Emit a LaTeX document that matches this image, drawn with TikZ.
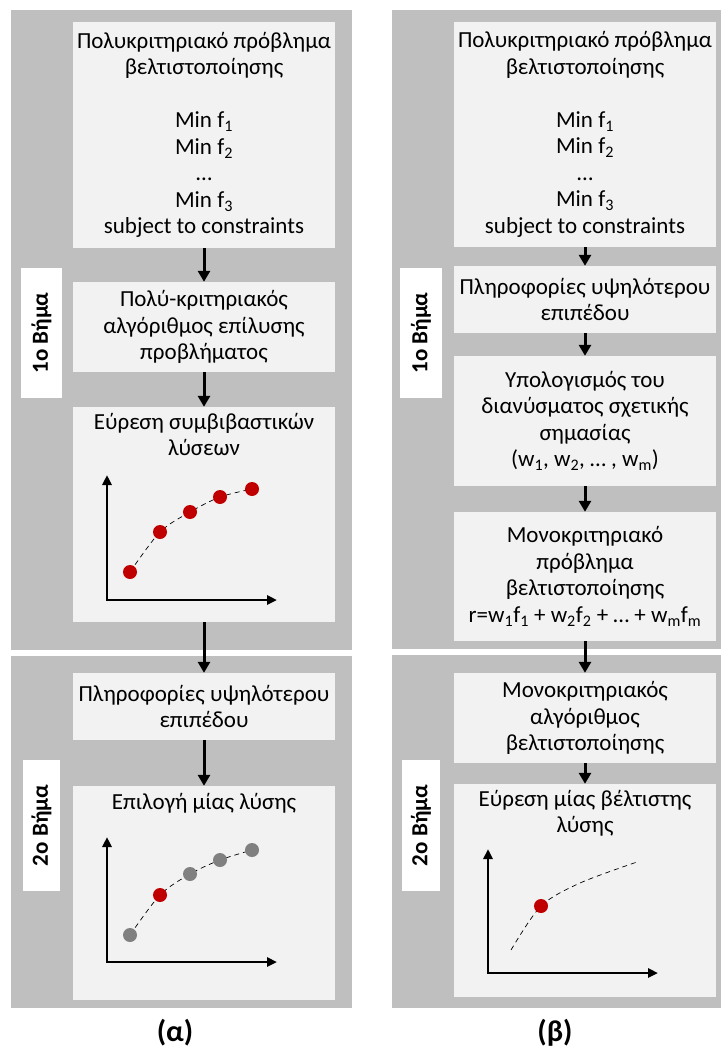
\documentclass[tikz,border=0pt]{standalone}
\usepackage{fontspec}
\setmainfont{Carlito}
\usetikzlibrary{arrows.meta}
\definecolor{panelgray}{HTML}{BFBFBF}
\definecolor{boxgray}{HTML}{F2F2F2}
\definecolor{dotred}{HTML}{C00000}
\definecolor{dotgray}{HTML}{808080}
\begin{document}
\begin{tikzpicture}[x=1pt,y=-1pt,
  box/.style={rectangle, fill=boxgray, inner sep=0pt, minimum width=262pt, align=center,
    font=\fontsize{23}{26.5}\selectfont},
  boxtext/.style={inner sep=0pt, align=center, font=\fontsize{23}{26.5}\selectfont},
  steplabel/.style={rectangle, fill=white, inner sep=0pt, rotate=90,
    font=\fontsize{23}{26}\selectfont\bfseries},
  flow/.style={line width=3pt, -{Triangle[width=12pt,length=11pt]}},
  axis/.style={line width=2.5pt, {Triangle[width=9pt,length=10pt]}-{Triangle[width=9pt,length=10pt]}},
  curve/.style={dash pattern=on 5pt off 4pt, line width=0.7pt},
  reddot/.style={circle, fill=dotred, inner sep=0pt, minimum size=14pt},
  graydot/.style={circle, fill=dotgray, inner sep=0pt, minimum size=14pt},
  caption/.style={font=\fontsize{30}{34}\selectfont\bfseries}]
\useasboundingbox (0,0) rectangle (721,1048);

% ---------- column (a): background panels ----------
\fill[panelgray] (11,10) rectangle (352,650);
\fill[panelgray] (11,656) rectangle (352,1008);
% ---------- column (b): background panels ----------
\fill[panelgray] (392,10) rectangle (721,649);
\fill[panelgray] (392,655) rectangle (721,1008);

% ---------- step labels ----------
\node[steplabel, minimum width=130pt, minimum height=41pt] (sA1) at (41.5,333) {1ο Βήμα};
\node[steplabel, minimum width=131pt, minimum height=37pt] (sA2) at (41.5,825.5) {2ο Βήμα};
\node[steplabel, minimum width=130pt, minimum height=42pt] (sB1) at (421,333) {1ο Βήμα};
\node[steplabel, minimum width=131pt, minimum height=38pt] (sB2) at (421,825.5) {2ο Βήμα};

% ---------- column (a): boxes ----------
\node[box, minimum height=226pt] (L1) at (204,135)
  {Πολυκριτηριακό πρόβλημα\\βελτιστοποίησης\\[26.5pt]Min f\textsubscript{1}\\Min f\textsubscript{2}\\…\\Min f\textsubscript{3}\\subject to constraints};
\node[box, minimum height=90pt] (L2) at (204,327)
  {Πολύ-κριτηριακός\\αλγόριθμος επίλυσης\\προβλήματος};
\node[box, minimum height=215pt] (L3) at (204,514.5) {};
\node[boxtext, anchor=north] (L3t) at (204,413) {Εύρεση συμβιβαστικών\\λύσεων};
\node[box, minimum height=67pt] (L4) at (204,706.5)
  {Πληροφορίες υψηλότερου\\επιπέδου};
\node[box, minimum height=214pt] (L5) at (204,893) {};
\node[boxtext, anchor=north] (L5t) at (204,793) {Επιλογή μίας λύσης};

% ---------- column (b): boxes ----------
\node[box, minimum height=225pt] (R1) at (585,134.5)
  {Πολυκριτηριακό πρόβλημα\\βελτιστοποίησης\\[26.5pt]Min f\textsubscript{1}\\Min f\textsubscript{2}\\…\\Min f\textsubscript{3}\\subject to constraints};
\node[box, minimum height=67pt] (R2) at (585,299.5)
  {Πληροφορίες υψηλότερου\\επιπέδου};
\node[box, minimum height=130pt] (R3) at (585,421)
  {Υπολογισμός του\\διανύσματος σχετικής\\σημασίας\\(w\textsubscript{1}, w\textsubscript{2}, … , w\textsubscript{m})};
\node[box, minimum height=129pt] (R4) at (585,576.5)
  {Μονοκριτηριακό\\πρόβλημα\\βελτιστοποίησης\\r=w\textsubscript{1}f\textsubscript{1} + w\textsubscript{2}f\textsubscript{2} + … + w\textsubscript{m}f\textsubscript{m}};
\node[box, minimum height=90pt] (R5) at (585,718)
  {Μονοκριτηριακός\\αλγόριθμος\\βελτιστοποίησης};
\node[box, minimum height=213pt] (R6) at (585,890.5) {};
\node[boxtext, anchor=north] (R6t) at (585,790) {Εύρεση μίας βέλτιστης\\λύσης};

% ---------- flow arrows ----------
\draw[flow] (L1) -- (L2);
\draw[flow] (L2) -- (L3);
\draw[flow] (L3) -- (L4);
\draw[flow] (L4) -- (L5);
\draw[flow] (R1) -- (R2);
\draw[flow] (R2) -- (R3);
\draw[flow] (R3) -- (R4);
\draw[flow] (R4) -- (R5);
\draw[flow] (R5) -- (R6);

% ---------- plot: compromise solutions ----------
\coordinate (aY) at (107,475);
\coordinate (aX) at (277,600);
\draw[axis] (aY) |- (aX);
\coordinate (a1) at (130,572);
\coordinate (a2) at (160,532);
\coordinate (a3) at (190,512);
\coordinate (a4) at (220,497);
\coordinate (a5) at (252,489);
\draw[curve] plot[smooth] coordinates {(a1) (a2) (a3) (a4) (a5)};
\foreach \p in {1,...,5} \node[reddot] (pa\p) at (a\p) {};

% ---------- plot: choice of one solution ----------
\coordinate (bY) at (107,837);
\coordinate (bX) at (277,962);
\draw[axis] (bY) |- (bX);
\coordinate (b1) at (130,935);
\coordinate (b2) at (160,895);
\coordinate (b3) at (190,874);
\coordinate (b4) at (220,860);
\coordinate (b5) at (252,850);
\draw[curve] plot[smooth] coordinates {(b1) (b2) (b3) (b4) (b5)};
\node[graydot] (pb1) at (b1) {};
\node[reddot] (pb2) at (b2) {};
\node[graydot] (pb3) at (b3) {};
\node[graydot] (pb4) at (b4) {};
\node[graydot] (pb5) at (b5) {};

% ---------- plot: single optimal solution ----------
\coordinate (cY) at (488,849);
\coordinate (cX) at (658,973);
\draw[axis] (cY) |- (cX);
\coordinate (c1) at (511,950);
\coordinate (c2) at (541,906);
\coordinate (c3) at (580,883);
\coordinate (c4) at (637,862);
\draw[curve] plot[smooth] coordinates {(c1) (c2) (c3) (c4)};
\node[reddot] (pc2) at (c2) {};

% ---------- captions ----------
\node[caption] (capA) at (175,1033) {(α)};
\node[caption] (capB) at (555,1033) {(β)};
\end{tikzpicture}
\end{document}
